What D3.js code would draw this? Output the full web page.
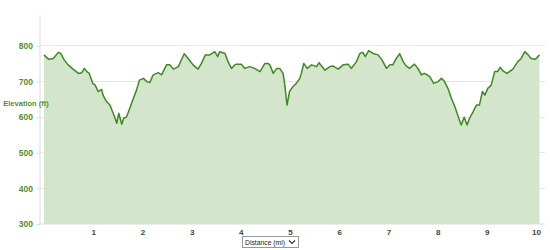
<!DOCTYPE html>
<html><head><meta charset="utf-8">
<script src="https://cdn.jsdelivr.net/npm/d3@7"></script>
<style>html,body{margin:0;padding:0;background:#fff;}svg{display:block;}</style>
</head><body>
<svg id="c" width="550" height="250"></svg>
<script>
const distance = [0.00,0.09,0.19,0.29,0.34,0.41,0.49,0.59,0.70,0.77,0.82,0.87,0.92,0.99,1.04,1.10,1.17,1.20,1.27,1.34,1.42,1.48,1.52,1.58,1.62,1.68,1.78,1.88,1.94,
2.02,2.09,2.15,2.22,2.32,2.39,2.49,2.56,2.63,2.73,2.85,2.93,3.03,3.13,3.20,3.28,3.37,3.47,3.53,3.57,3.68,3.74,3.81,3.88,
3.91,4.01,4.08,4.18,4.28,4.39,4.49,4.55,4.59,4.66,4.73,4.79,4.86,4.89,4.94,4.99,5.06,5.13,5.20,5.23,5.28,5.35,5.44,5.54,5.59,5.71,
5.81,5.87,5.98,6.08,6.18,6.25,6.35,6.42,6.48,6.53,6.60,6.69,6.79,6.87,6.96,7.03,7.09,7.16,7.23,7.30,7.36,7.43,7.53,7.60,7.67,7.74,
7.84,7.92,8.01,8.08,8.14,8.21,8.28,8.35,8.42,8.48,8.54,8.60,8.65,8.72,8.79,8.85,8.91,8.96,9.02,9.09,9.16,9.22,9.27,9.33,9.41,9.53,
9.63,9.70,9.77,9.84,9.90,9.99,10.07];
const elevation = [775,763,765,782,779,761,747,735,723,725,737,728,723,695,690,672,678,662,644,634,606,583,611,580,597,601,639,676,704,
709,700,697,719,725,719,747,747,735,742,778,765,747,735,751,775,775,784,770,784,779,756,737,747,
749,749,737,742,737,728,751,751,747,723,737,737,723,695,634,672,686,695,709,723,751,737,747,742,753,732,
742,744,735,747,749,737,756,779,782,770,787,779,775,761,737,747,747,765,778,756,744,737,749,737,719,723,
714,695,700,709,700,681,653,630,601,578,600,578,597,615,634,634,672,662,681,690,728,728,740,730,723,735,
756,765,784,775,765,763,775];
const yTicks = [300,400,500,600,700,800];
const xTicks = [1,2,3,4,5,6,7,8,9,10];
const yTitle = "Elevation (ft)";
const xTitle = "Distance (mi)";

const svg = d3.select("#c");
const x = d3.scaleLinear().domain([0,10]).range([44,536]);
const y = d3.scaleLinear().domain([300,887]).range([224,15]);
const font = "'Liberation Sans', Arial, sans-serif";

// gridlines
svg.append("g").selectAll("line").data(yTicks.filter(v=>v>300)).join("line")
  .attr("x1",40).attr("x2",545).attr("y1",d=>y(d)).attr("y2",d=>y(d))
  .attr("stroke","#e6e6e6").attr("stroke-width",1).attr("shape-rendering","crispEdges");

// area
const data = distance.map((d,i)=>({d, e: elevation[i]}));
svg.append("path").datum(data)
  .attr("d", d3.area().x(p=>x(p.d)).y0(y(300)).y1(p=>y(p.e)))
  .attr("fill","#d3e6cb");
svg.append("path").datum(data)
  .attr("d", d3.line().x(p=>x(p.d)).y(p=>y(p.e)))
  .attr("fill","none").attr("stroke","#3e8a22").attr("stroke-width",1.5).attr("stroke-linejoin","round");

// axes
const yAxis = svg.append("g").attr("transform","translate(40,0)")
  .call(d3.axisLeft(y).tickValues(yTicks).tickSize(3).tickPadding(4));
yAxis.select(".domain").attr("stroke","#dcdcdc").attr("d","M0,15V224");
yAxis.selectAll(".tick line").attr("stroke","#dcdcdc");
yAxis.selectAll("text").attr("fill","#4f8f2f").attr("font-family",font).attr("font-weight","bold").attr("font-size","8.5px");

const xAxis = svg.append("g").attr("transform","translate(0,224)")
  .call(d3.axisBottom(x).tickValues(xTicks).tickFormat(d3.format("d")).tickSize(0).tickPadding(5));
xAxis.select(".domain").attr("stroke","#dcdcdc").attr("d","M40,0H545");
xAxis.selectAll("text").attr("fill","#444").attr("font-family",font).attr("font-weight","bold").attr("font-size","8px");

// y title
svg.append("text").attr("x",26).attr("y",106).attr("text-anchor","middle")
  .attr("fill","#4f8f2f").attr("font-family",font).attr("font-weight","bold").attr("font-size","7.5px")
  .text(yTitle);

// x title (select-like box)
const bx = 242, by = 236, bw = 56, bh = 11;
svg.append("rect").attr("x",bx+0.5).attr("y",by+0.5).attr("width",bw).attr("height",bh)
  .attr("fill","#fff").attr("stroke","#999");
svg.append("text").attr("x",bx+3).attr("y",by+8.5).attr("fill","#222")
  .attr("font-family",font).attr("font-size","7px").attr("textLength",40).attr("lengthAdjust","spacingAndGlyphs").text(xTitle);
svg.append("path").attr("d",`M${bx+bw-9},${by+4.5} l3,3 l3,-3`).attr("fill","none").attr("stroke","#333").attr("stroke-width",1.2);
</script>
</body></html>
